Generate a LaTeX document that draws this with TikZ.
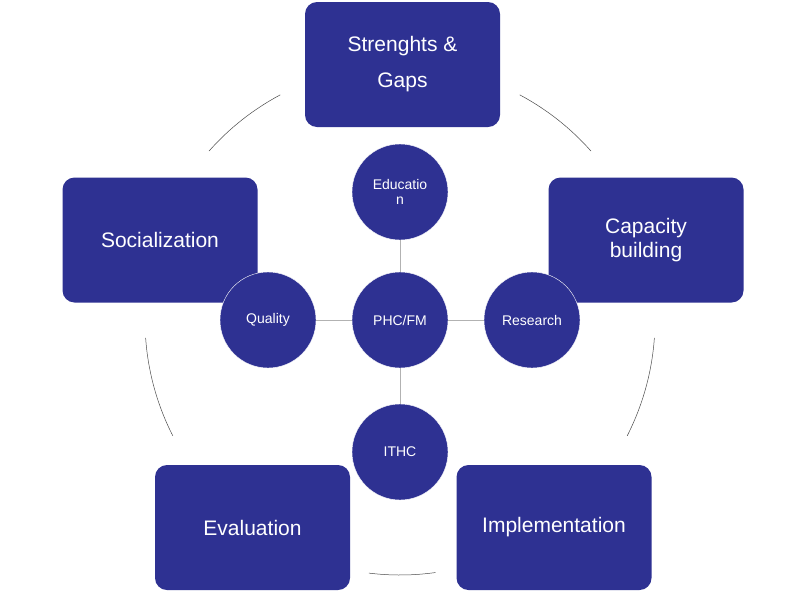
\documentclass[tikz,border=0pt]{standalone}
\usepackage{fontspec}
\setmainfont{Liberation Sans}
\definecolor{navy}{HTML}{2E3192}
\begin{document}
\begin{tikzpicture}[x=1pt,y=-1pt,
  box/.style={fill=navy,rounded corners=12pt,minimum width=195pt,minimum height=125pt,text=white,align=center,font=\fontsize{21}{36}\selectfont,inner sep=0pt},
  circ/.style={circle,fill=navy,draw=white,minimum size=96pt,inner sep=0pt,text=white,align=center,font=\fontsize{14}{15}\selectfont},
  conn/.style={draw=gray!60,line width=1pt},
  ring/.style={draw=black!70,line width=0.5pt}]
\fill[white] (0,0) rectangle (800,600);
\coordinate (o) at (400,320);
\foreach \a/\b in {118/138.5,41.5/62,184/207,-27/-4,263/278}
  \draw[ring] ([shift={(\a:255 and -255)}]o) arc[start angle=\a,end angle=\b,x radius=255,y radius=-255];
\node[box] (sg) at (402.5,64.5) {Strenghts \&\\Gaps};
\node[box] (cb) at (646,240) {Capacity\\[-12pt]building};
\node[box] (so) at (160,240) {\hspace*{-3pt}Socialization\hspace*{-3pt}};
\node[box] (ev) at (252.5,527.5) {Evaluation};
\node[box] (im) at (554,527.5) {Implementation};
\node[circ] (phc) at (400,320) {PHC/FM};
\node[circ] (edu) at (400,192) {Educatio\\n};
\node[circ] (qu) at (268,320) {Quality};
\node[circ] (re) at (532,320) {Research};
\node[circ] (it) at (400,452) {ITHC};
\foreach \n in {edu,qu,re,it} \draw[conn] (phc) -- (\n);
\end{tikzpicture}
\end{document}
